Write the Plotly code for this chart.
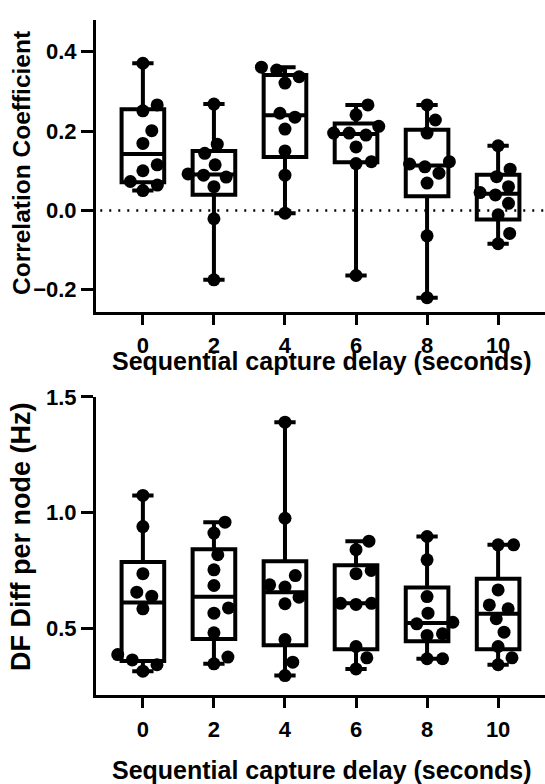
import numpy as np
import plotly.graph_objects as go

# ---------------- data ----------------
delays = [0, 2, 4, 6, 8, 10]
tick_labels = ["0", "2", "4", "6", "8", "10"]

# Correlation coefficient per capture delay
corr_d0 = [0.371, 0.266, 0.251, 0.201, 0.169, 0.115, 0.100, 0.073, 0.064, 0.050]
corr_d2 = [0.268, 0.167, 0.144, 0.115, 0.092, 0.084, 0.089, 0.060, -0.021, -0.175]
corr_d4 = [0.361, 0.354, 0.337, 0.321, 0.245, 0.235, 0.205, 0.150, 0.089, -0.007]
corr_d6 = [0.266, 0.241, 0.212, 0.195, 0.195, 0.190, 0.160, 0.123, 0.118, -0.164]
corr_d8 = [0.266, 0.228, 0.195, 0.123, 0.117, 0.110, 0.094, 0.069, -0.064, -0.220]
corr_d10 = [0.163, 0.104, 0.085, 0.060, 0.045, 0.039, 0.018, -0.011, -0.058, -0.084]

# DF difference per node (Hz) per capture delay
df_d0 = [1.074, 0.939, 0.735, 0.655, 0.638, 0.583, 0.385, 0.362, 0.341, 0.313]
df_d2 = [0.958, 0.911, 0.817, 0.752, 0.684, 0.587, 0.564, 0.479, 0.374, 0.345]
df_d4 = [1.391, 0.975, 0.727, 0.687, 0.677, 0.633, 0.605, 0.450, 0.352, 0.294]
df_d6 = [0.876, 0.839, 0.749, 0.735, 0.607, 0.602, 0.607, 0.420, 0.371, 0.323]
df_d8 = [0.896, 0.795, 0.636, 0.564, 0.518, 0.525, 0.475, 0.468, 0.367, 0.367]
df_d10 = [0.860, 0.860, 0.665, 0.600, 0.583, 0.540, 0.482, 0.420, 0.371, 0.341]

corr_groups = [corr_d0, corr_d2, corr_d4, corr_d6, corr_d8, corr_d10]
df_groups = [df_d0, df_d2, df_d4, df_d6, df_d8, df_d10]

# ---------------- layout constants ----------------
W, H = 545, 784
ML, MR, MT, MB = 96, 0, 20, 89
XR = [-1.32, 11.32]
Y1R = [-0.256, 0.48]
Y2R = [0.21, 1.5]
TOP_DOM = [0.5674, 1.0]
BOT_DOM = [0.0, 0.4415]

plot_w = W - ML - MR
plot_h = H - MT - MB
px_per_x = plot_w / (XR[1] - XR[0])
px_per_y1 = plot_h * (TOP_DOM[1] - TOP_DOM[0]) / (Y1R[1] - Y1R[0])
px_per_y2 = plot_h * (BOT_DOM[1] - BOT_DOM[0]) / (Y2R[1] - Y2R[0])

MARKER = 13
COLLIDE = 15.5


def swarm_offsets(vals, px_per_y, d=COLLIDE):
    """Simple beeswarm: x offsets (in px) so markers don't collide."""
    vals = np.asarray(vals, dtype=float)
    order = np.argsort(vals)
    placed = []
    offs = np.zeros(len(vals))
    for i in order:
        y = vals[i] * px_per_y
        cands = [0.0]
        for xj, yj in placed:
            dy = abs(y - yj)
            if dy < d:
                dx = np.sqrt(d * d - dy * dy)
                cands += [xj + dx, xj - dx]
        cands = sorted(cands, key=lambda c: (round(abs(c), 3), -c))
        for c in cands:
            ok = all((c - xj) ** 2 + (y - yj) ** 2 >= d * d - 1e-6 for xj, yj in placed)
            if ok:
                offs[i] = c
                placed.append((c, y))
                break
    return offs


fig = go.Figure()


def add_panel(groups, xref, yref, px_per_y):
    q1s, meds, q3s, los, his = [], [], [], [], []
    for g in groups:
        q1, med, q3 = np.percentile(g, [25, 50, 75], method="weibull")
        q1s.append(q1); meds.append(med); q3s.append(q3)
        los.append(min(g)); his.append(max(g))
    fig.add_trace(go.Box(
        x=delays, q1=q1s, median=meds, q3=q3s, lowerfence=los, upperfence=his,
        width=1.2, whiskerwidth=0.5, boxpoints=False,
        line=dict(color="black", width=4), fillcolor="rgba(0,0,0,0)",
        xaxis=xref, yaxis=yref, showlegend=False, hoverinfo="skip",
    ))
    xs, ys = [], []
    for d, g in zip(delays, groups):
        offs = swarm_offsets(g, px_per_y)
        xs += list(d + offs / px_per_x)
        ys += list(g)
    fig.add_trace(go.Scatter(
        x=xs, y=ys, mode="markers",
        marker=dict(color="black", size=MARKER, line=dict(width=0)),
        xaxis=xref, yaxis=yref, showlegend=False, hoverinfo="skip",
    ))


add_panel(corr_groups, "x", "y", px_per_y1)
add_panel(df_groups, "x2", "y2", px_per_y2)

FONT = "Liberation Sans, Arial, sans-serif"
tickfont = dict(family=FONT, size=22, color="black", weight="bold")

xcommon = dict(
    range=XR, tickmode="array", tickvals=delays, ticktext=tick_labels,
    showline=True, linecolor="black", linewidth=3, mirror=False,
    ticks="outside", ticklen=10, tickwidth=3, tickcolor="black",
    showgrid=False, zeroline=False, tickfont=tickfont,
)
ycommon = dict(
    showline=True, linecolor="black", linewidth=3,
    ticks="outside", ticklen=12, tickwidth=3, tickcolor="black",
    showgrid=False, zeroline=False, tickfont=tickfont, tickformat=".1f",
)

fig.update_layout(
    width=W, height=H,
    margin=dict(l=ML, r=MR, t=MT, b=MB),
    paper_bgcolor="white", plot_bgcolor="white",
    font=dict(family=FONT, color="black"),
    xaxis=dict(domain=[0, 1], anchor="y", ticklabelstandoff=2, **xcommon),
    yaxis=dict(domain=TOP_DOM, anchor="x", range=Y1R, tickvals=[-0.2, 0.0, 0.2, 0.4], **ycommon),
    xaxis2=dict(domain=[0, 1], anchor="y2", ticklabelstandoff=3, **xcommon),
    yaxis2=dict(domain=BOT_DOM, anchor="x2", range=Y2R, tickvals=[0.5, 1.0, 1.5], **ycommon),
)

# dotted zero line in the top panel
fig.add_shape(type="line", xref="x", yref="y", x0=-1.2, x1=XR[1], y0=0, y1=0,
              line=dict(color="black", width=2.5, dash="2px,7px"), layer="below")

titlefont = dict(family=FONT, size=25, color="black", weight="bold")


def py(ref_px):
    return (H - MB - ref_px) / plot_h


def px_x(ref_px):
    return (ref_px - ML) / plot_w


fig.add_annotation(text="Sequential capture delay (seconds)", xref="paper", yref="paper",
                   x=px_x(322), y=py(361), xanchor="center", yanchor="middle",
                   showarrow=False, font=titlefont)
fig.add_annotation(text="Sequential capture delay (seconds)", xref="paper", yref="paper",
                   x=px_x(322), y=py(770), xanchor="center", yanchor="middle",
                   showarrow=False, font=titlefont)
fig.add_annotation(text="Correlation Coefficient", xref="paper", yref="paper",
                   x=px_x(21), y=py(163), xanchor="center", yanchor="middle", textangle=-90,
                   showarrow=False, font=dict(family=FONT, size=24.5, color="black", weight="bold"))
fig.add_annotation(text="DF Diff per node (Hz)", xref="paper", yref="paper",
                   x=px_x(21), y=py(537), xanchor="center", yanchor="middle", textangle=-90,
                   showarrow=False, font=dict(family=FONT, size=27, color="black", weight="bold"))

fig.write_html("out.html", config={"displayModeBar": False},
               post_script="document.body.style.margin='0';")
